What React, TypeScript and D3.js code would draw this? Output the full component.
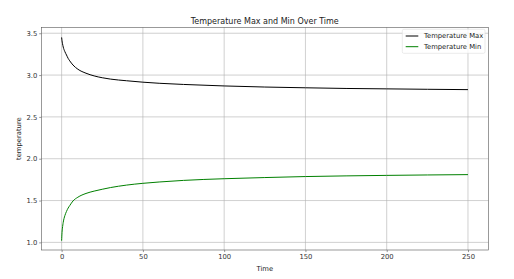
import React, { useEffect, useRef } from 'react';
import * as d3 from 'd3';

// values
const times = [0, 0.25, 0.5, 1, 2, 3, 4, 5, 7, 10, 15, 20, 25, 30, 40, 50, 60, 75, 100, 125, 150, 175, 200, 225, 250];
const tempMax = [3.45, 3.41, 3.38, 3.335, 3.28, 3.24, 3.20, 3.17, 3.12, 3.07, 3.022, 2.99, 2.968, 2.952, 2.932, 2.915, 2.902, 2.888, 2.87, 2.857, 2.848, 2.84, 2.835, 2.83, 2.826];
const tempMin = [1.02, 1.12, 1.17, 1.24, 1.32, 1.37, 1.41, 1.44, 1.495, 1.54, 1.585, 1.613, 1.635, 1.655, 1.685, 1.706, 1.722, 1.741, 1.761, 1.775, 1.787, 1.795, 1.801, 1.806, 1.81];
const xTicks = [0, 50, 100, 150, 200, 250];
const yTicks = [1.0, 1.5, 2.0, 2.5, 3.0, 3.5];
const seriesNames = ['Temperature Max', 'Temperature Min'];
const seriesColors = ['#000000', '#008000'];

const W = 514, H = 279;

function App() {
  const ref = useRef<SVGSVGElement>(null);

  useEffect(() => {
    const svg = d3.select(ref.current);
    svg.selectAll('*').remove();

    //PLOT AREA
    const left = 41.3, right = 488.3, top = 27.3, bottom = 250;
    const x = d3.scaleLinear().domain([-12.5, 262.5]).range([left, right]);
    const y = d3.scaleLinear().domain([0.909, 3.571]).range([bottom, top]);
    const font = 'DejaVu Sans, sans-serif';

    svg.append('rect').attr('width', W).attr('height', H).attr('fill', '#fff');

    //GRID
    const grid = svg.append('g');
    xTicks.forEach(t => {
      grid.append('line').attr('x1', x(t)).attr('x2', x(t)).attr('y1', top).attr('y2', bottom)
        .attr('stroke', '#b0b0b0').attr('stroke-width', 0.6);
    });
    yTicks.forEach(t => {
      grid.append('line').attr('x1', left).attr('x2', right).attr('y1', y(t)).attr('y2', y(t))
        .attr('stroke', '#b0b0b0').attr('stroke-width', 0.6);
    });

    //LINES
    const series = [tempMax, tempMin];
    series.forEach((vals, i) => {
      const pts = times.map((t, j) => [t, vals[j]] as [number, number]);
      svg.append('path')
        .datum(pts)
        .attr('fill', 'none')
        .attr('stroke', seriesColors[i])
        .attr('stroke-width', 1)
        .attr('d', d3.line<[number, number]>()
          .x(d => x(d[0]))
          .y(d => y(d[1]))
          .curve(d3.curveMonotoneX));
    });

    //AXES
    const xAxis = svg.append('g').attr('transform', `translate(0,${bottom})`)
      .call(d3.axisBottom(x).tickValues(xTicks).tickSize(2.1).tickPadding(2).tickFormat(d3.format('d')));
    const yAxis = svg.append('g').attr('transform', `translate(${left},0)`)
      .call(d3.axisLeft(y).tickValues(yTicks).tickSize(2.1).tickPadding(2).tickFormat(d3.format('.1f')));
    [xAxis, yAxis].forEach(a => {
      a.select('.domain').remove();
      a.selectAll('line').attr('stroke', '#333').attr('stroke-width', 0.5);
      a.selectAll('text').attr('font-family', font).attr('font-size', 6.8).attr('fill', '#333');
    });

    //FRAME
    svg.append('rect').attr('x', left).attr('y', top).attr('width', right - left).attr('height', bottom - top)
      .attr('fill', 'none').attr('stroke', '#555').attr('stroke-width', 0.6);

    //TITLE & LABELS
    svg.append('text').attr('x', (left + right) / 2).attr('y', 23.5).attr('text-anchor', 'middle')
      .attr('font-family', font).attr('font-size', 8).attr('fill', '#222').text('Temperature Max and Min Over Time');
    svg.append('text').attr('x', (left + right) / 2).attr('y', 270.5).attr('text-anchor', 'middle')
      .attr('font-family', font).attr('font-size', 6.8).attr('fill', '#222').text('Time');
    svg.append('text').attr('transform', `translate(21,${(top + bottom) / 2}) rotate(-90)`).attr('text-anchor', 'middle')
      .attr('font-family', font).attr('font-size', 6.8).attr('fill', '#222').text('temperature');

    //LEGEND
    const lg = svg.append('g');
    lg.append('rect').attr('x', 402.3).attr('y', 29.3).attr('width', 82.7).attr('height', 24).attr('rx', 1.5)
      .attr('fill', '#fff').attr('fill-opacity', 0.8).attr('stroke', '#ddd').attr('stroke-width', 0.6);
    seriesNames.forEach((name, i) => {
      const ly = 36 + i * 10.7;
      lg.append('line').attr('x1', 405.7).attr('x2', 418.3).attr('y1', ly).attr('y2', ly)
        .attr('stroke', seriesColors[i]).attr('stroke-width', 1);
      lg.append('text').attr('x', 424).attr('y', ly + 2.4).attr('font-family', font).attr('font-size', 6.8)
        .attr('fill', '#222').text(name);
    });
  }, []);

  return (
    <svg ref={ref} width={W} height={H} style={{ position: 'absolute', left: 0, top: 0 }} />
  );
}

export default App;
